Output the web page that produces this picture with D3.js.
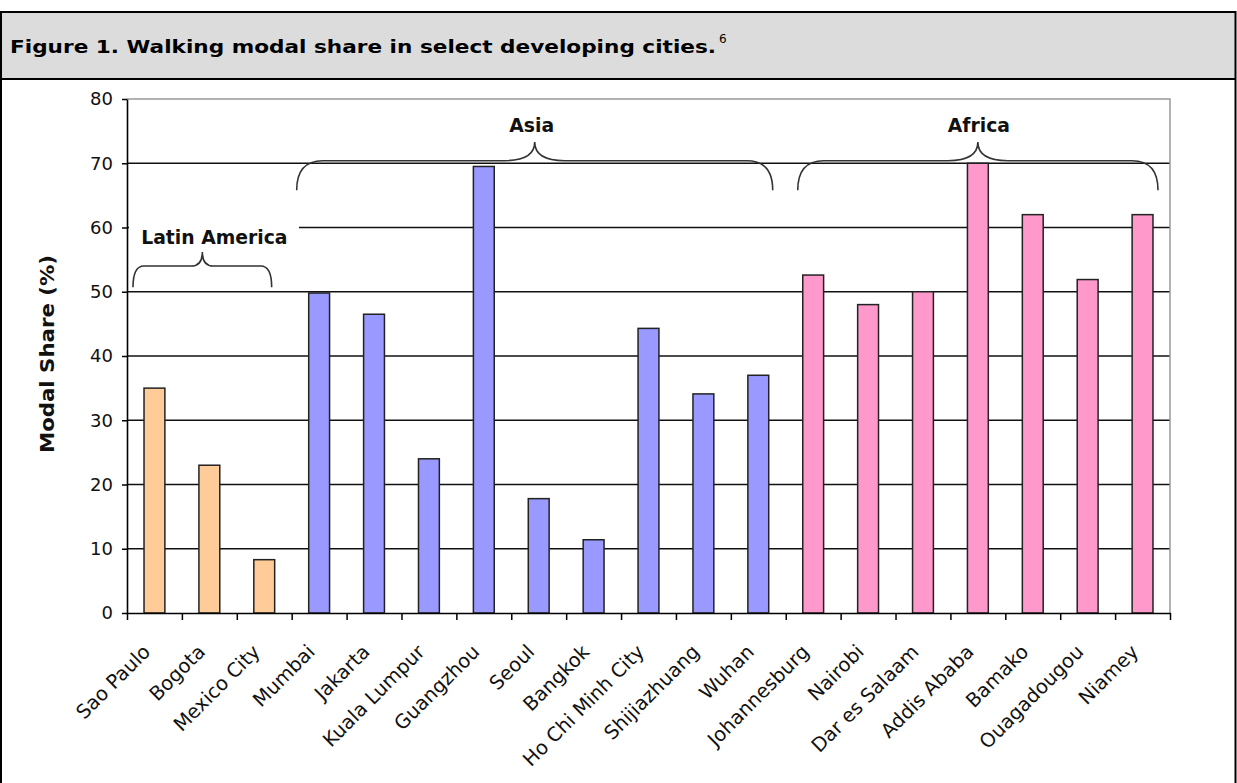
<!DOCTYPE html>
<html>
<head>
<meta charset="utf-8">
<script src="https://cdn.jsdelivr.net/npm/d3@7"></script>
<style>
  html, body { margin: 0; padding: 0; background: #fff; }
  svg { display: block; }
</style>
</head>
<body>
<svg id="chart" width="1237" height="783"></svg>
<script>
// ---- data ----
const cities = ["Sao Paulo","Bogota","Mexico City","Mumbai","Jakarta","Kuala Lumpur","Guangzhou","Seoul","Bangkok","Ho Chi Minh City","Shijiazhuang","Wuhan","Johannesburg","Nairobi","Dar es Salaam","Addis Ababa","Bamako","Ouagadougou","Niamey"];
const shares = [35.0, 23.0, 8.3, 49.8, 46.5, 24.0, 69.5, 17.8, 11.4, 44.3, 34.1, 37.0, 52.6, 48.0, 50.0, 70.0, 62.0, 51.9, 62.0];
const regions = ["Latin America","Latin America","Latin America","Asia","Asia","Asia","Asia","Asia","Asia","Asia","Asia","Asia","Africa","Africa","Africa","Africa","Africa","Africa","Africa"];
const regionNames = ["Latin America","Asia","Africa"];
const regionColors = ["#FFCC99","#9999FF","#FF99CC"];
const yTicks = [0,10,20,30,40,50,60,70,80];
const titleText = "Figure 1. Walking modal share in select developing cities.";
const titleNote = "6";
const yLabel = "Modal Share (%)";

// ---- layout ----
const svg = d3.select("#chart");
const W = 1237, H = 783;
const plot = {left: 127, right: 1170, top: 99, bottom: 613};
const FONT = "DejaVu Sans, Verdana, sans-serif";

// frame + title band
svg.append("rect").attr("x", 1).attr("y", 12).attr("width", W - 2.5).attr("height", 67)
  .attr("fill", "#dcdcdc");
svg.append("rect").attr("x", 1).attr("y", 12).attr("width", W - 2.5).attr("height", 800)
  .attr("fill", "none").attr("stroke", "#000").attr("stroke-width", 2);
svg.append("line").attr("x1", 1).attr("x2", W - 1.5).attr("y1", 79).attr("y2", 79)
  .attr("stroke", "#000").attr("stroke-width", 2);

const title = svg.append("text").attr("x", 10).attr("y", 53)
  .attr("font-family", FONT).attr("font-weight", "bold")
  .attr("font-size", 18.5).attr("fill", "#000");
title.append("tspan").attr("textLength", 706).attr("lengthAdjust", "spacingAndGlyphs").text(titleText);
title.append("tspan").attr("font-weight", "normal").attr("font-size", 12).attr("dy", -10).attr("dx", 3).text(titleNote);

// scales
const x = d3.scaleBand().domain(cities).range([plot.left, plot.right])
  .paddingInner(0.62).paddingOuter(0.31);
const xb = d3.scaleLinear().domain([0, cities.length]).range([plot.left, plot.right]);
const y = d3.scaleLinear().domain([0, 80]).range([plot.bottom, plot.top]);
const color = d3.scaleOrdinal().domain(regionNames).range(regionColors);

// gridlines
svg.append("g").selectAll("line").data(yTicks.filter(t => t > 0 && t < 80)).join("line")
  .attr("x1", plot.left).attr("x2", plot.right)
  .attr("y1", d => y(d)).attr("y2", d => y(d))
  .attr("stroke", "#111").attr("stroke-width", 1.6);
// plot border (top, right) gray
svg.append("path")
  .attr("d", `M${plot.left},${y(80)}H${plot.right}V${plot.bottom}`)
  .attr("fill", "none").attr("stroke", "#999").attr("stroke-width", 1.5);

// bars
svg.append("g").selectAll("rect").data(cities).join("rect")
  .attr("x", d => x(d)).attr("width", x.bandwidth())
  .attr("y", (d, i) => y(shares[i])).attr("height", (d, i) => y(0) - y(shares[i]))
  .attr("fill", (d, i) => color(regions[i]))
  .attr("stroke", "#222").attr("stroke-width", 1.5);

// region braces
function braceSpec(name) {
  const idx = regions.map((r, i) => r === name ? i : -1).filter(i => i >= 0);
  return {name, first: idx[0], last: idx[idx.length - 1]};
}
const braceCfg = {
  "Latin America": {padL: 6, padR: 20, tip: 50.7, top: 54.0, cusp: 56.2, r: 11, cw: 11, labelDx: 12, labelDy: -8, boxed: true},
  "Asia":          {padL: 5, padR: 13, tip: 65.8, top: 70.4, cusp: 73.3, r: 26, cw: 30, labelDx: -3, labelDy: -10, boxed: false},
  "Africa":        {padL: 12, padR: 12, tip: 65.8, top: 70.4, cusp: 73.3, r: 26, cw: 30, labelDx: 1, labelDy: -10, boxed: false}
};
regionNames.forEach(name => {
  const s = braceSpec(name), c = braceCfg[name];
  const x0 = xb(s.first) + c.padL, x1 = xb(s.last + 1) - c.padR, cx = (x0 + x1) / 2;
  const yt = y(c.tip), yo = y(c.top), yc = y(c.cusp);
  const d = `M${x0},${yt} Q${x0},${yo} ${x0 + c.r},${yo} L${cx - c.cw},${yo} Q${cx},${yo} ${cx},${yc}` +
            ` Q${cx},${yo} ${cx + c.cw},${yo} L${x1 - c.r},${yo} Q${x1},${yo} ${x1},${yt}`;
  if (c.boxed) {
    svg.append("rect").attr("x", plot.left + 2).attr("y", yc - 40).attr("width", 170).attr("height", 34)
      .attr("fill", "#fff");
  }
  svg.append("path").attr("d", d).attr("fill", "none").attr("stroke", "#333").attr("stroke-width", 1.6);
  svg.append("text").attr("x", cx + c.labelDx).attr("y", yc + c.labelDy)
    .attr("text-anchor", "middle")
    .attr("font-family", FONT).attr("font-weight", "bold")
    .attr("font-size", 18.8).attr("fill", "#111").text(name);
});

// y axis
const yAxis = svg.append("g").attr("transform", `translate(${plot.left},0)`)
  .call(d3.axisLeft(y).tickValues(yTicks).tickSize(5).tickPadding(9).tickSizeOuter(0));
yAxis.select(".domain").attr("stroke", "#000").attr("stroke-width", 1.6);
yAxis.selectAll(".tick line").attr("stroke", "#000").attr("stroke-width", 1.5);
yAxis.selectAll(".tick text").attr("font-family", FONT)
  .attr("font-size", 18).attr("fill", "#111");

// x axis ticks at category boundaries
const xAxis = svg.append("g").attr("transform", `translate(0,${plot.bottom})`)
  .call(d3.axisBottom(xb).tickValues(d3.range(cities.length + 1)).tickSize(7).tickFormat("").tickSizeOuter(0));
xAxis.select(".domain").attr("stroke", "#000").attr("stroke-width", 1.6);
xAxis.selectAll(".tick line").attr("stroke", "#000").attr("stroke-width", 1.5);

// x labels via band axis
const xLab = svg.append("g").attr("transform", `translate(0,${plot.bottom})`)
  .call(d3.axisBottom(x).tickSize(0).tickPadding(0));
xLab.select(".domain").remove();
xLab.selectAll(".tick text")
  .attr("font-family", FONT).attr("font-size", 19.5).attr("fill", "#111")
  .attr("text-anchor", "end").attr("dy", 0)
  .attr("transform", "translate(-3,40) rotate(-45)");

// y label
svg.append("text").attr("transform", `translate(54,354) rotate(-90)`)
  .attr("text-anchor", "middle")
  .attr("font-family", FONT).attr("font-weight", "bold")
  .attr("font-size", 19.5).attr("textLength", 198).attr("lengthAdjust", "spacingAndGlyphs")
  .attr("fill", "#111").text(yLabel);
</script>
</body>
</html>
